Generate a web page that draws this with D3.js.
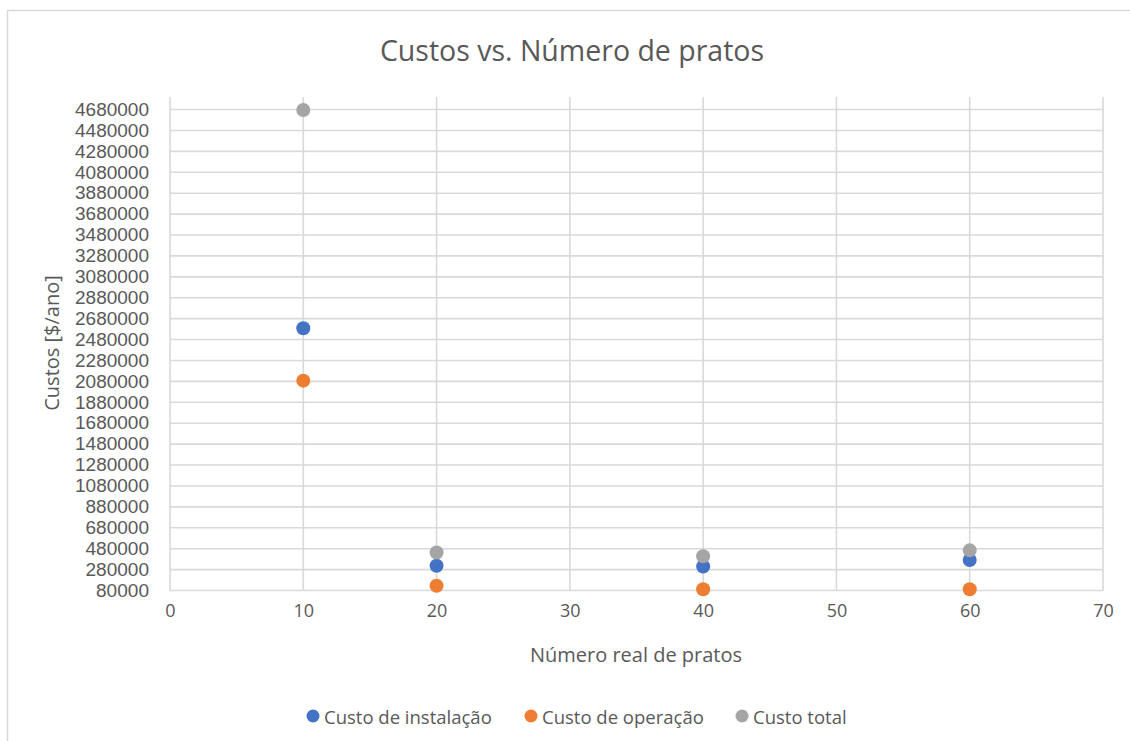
<!DOCTYPE html>
<html>
<head>
<meta charset="utf-8">
<script src="https://cdn.jsdelivr.net/npm/d3@7"></script>
<style>
  html, body { margin: 0; padding: 0; background: #ffffff; }
  svg { display: block; font-family: "Open Sans", "Liberation Sans", sans-serif; }
</style>
</head>
<body>
<svg id="chart" width="1130" height="741"></svg>
<script>
// Number of plates on the x axis
const pratos = [10, 20, 40, 60];
// Annual costs per series ($/ano)
const custoInstalacao = [2588000, 317000, 310000, 372000];
const custoOperacao   = [2087000, 126000, 92000, 92000];
const custoTotal      = [4675000, 443000, 408000, 464000];

const seriesNames  = ["Custo de instalação", "Custo de operação", "Custo total"];
const seriesColors = ["#4472C4", "#ED7D31", "#A5A5A5"];
const seriesValues = [custoInstalacao, custoOperacao, custoTotal];

// Axis settings
const xTicks = [0, 10, 20, 30, 40, 50, 60, 70];
const yMin = 80000, yMax = 4800000, yStep = 200000;
const yTicks = d3.range(yMin, 4680000 + 1, yStep);

const svg = d3.select("#chart");
const textColor = "#595959";
const gridColor = "#d9d9d9";

// Outer chart frame
svg.append("rect")
  .attr("x", 7.5).attr("y", 10.5)
  .attr("width", 1140).attr("height", 735)
  .attr("fill", "#ffffff")
  .attr("stroke", gridColor).attr("stroke-width", 1.5);

const plot = { left: 170, right: 1103, top: 97, bottom: 590.5 };

const x = d3.scaleLinear().domain([0, 70]).range([plot.left, plot.right]);
const y = d3.scaleLinear().domain([yMin, yMax]).range([plot.bottom, plot.top]);

// Horizontal gridlines
svg.append("g")
  .selectAll("line")
  .data(yTicks)
  .join("line")
  .attr("x1", plot.left).attr("x2", plot.right)
  .attr("y1", d => y(d)).attr("y2", d => y(d))
  .attr("stroke", gridColor).attr("stroke-width", 1.6);

// Vertical gridlines (including the axis line at 0)
svg.append("g")
  .selectAll("line")
  .data(xTicks)
  .join("line")
  .attr("x1", d => x(d)).attr("x2", d => x(d))
  .attr("y1", plot.top).attr("y2", plot.bottom)
  .attr("stroke", gridColor).attr("stroke-width", 1.6);

// Y axis labels
const yAxis = d3.axisLeft(y)
  .tickValues(yTicks)
  .tickFormat(d3.format("d"))
  .tickSize(0)
  .tickPadding(21);
const gy = svg.append("g")
  .attr("transform", `translate(${plot.left},0)`)
  .call(yAxis);
gy.select(".domain").remove();
gy.selectAll("text")
  .attr("fill", textColor)
  .style("font-size", "18px")
  .style("font-family", "'Liberation Sans', sans-serif")
  .attr("textLength", 74)
  .attr("lengthAdjust", "spacingAndGlyphs");
// shorter labels (6 digits) keep the same per-digit width
gy.selectAll("text")
  .filter(d => String(d).length === 6)
  .attr("textLength", 63.5);
gy.selectAll("text")
  .filter(d => String(d).length === 5)
  .attr("textLength", 53);

// X axis labels
const xAxis = d3.axisBottom(x)
  .tickValues(xTicks)
  .tickFormat(d3.format("d"))
  .tickSize(0)
  .tickPadding(14);
const gx = svg.append("g")
  .attr("transform", `translate(0,${plot.bottom})`)
  .call(xAxis);
gx.select(".domain").remove();
gx.selectAll("text")
  .attr("fill", textColor)
  .style("font-size", "18px")
  .style("font-family", "'Open Sans', 'Liberation Sans', sans-serif");

// Title
svg.append("text")
  .attr("x", 572).attr("y", 50)
  .attr("text-anchor", "middle")
  .attr("dominant-baseline", "central")
  .attr("fill", textColor)
  .style("font-size", "28.5px")
  .text("Custos vs. Número de pratos");

// Axis titles
svg.append("text")
  .attr("x", 636).attr("y", 654)
  .attr("text-anchor", "middle")
  .attr("dominant-baseline", "central")
  .attr("fill", textColor)
  .style("font-size", "20px")
  .text("Número real de pratos");

svg.append("text")
  .attr("transform", "translate(51,343) rotate(-90)")
  .attr("text-anchor", "middle")
  .attr("dominant-baseline", "central")
  .attr("fill", textColor)
  .style("font-size", "20px")
  .text("Custos [$/ano]");

// Markers
seriesValues.forEach((vals, i) => {
  svg.append("g")
    .selectAll("circle")
    .data(pratos.map((p, j) => ({ p, v: vals[j] })))
    .join("circle")
    .attr("cx", d => x(d.p))
    .attr("cy", d => y(d.v))
    .attr("r", 7)
    .attr("fill", seriesColors[i]);
});

// Legend
const legendItems = [
  { x: 313 }, { x: 531 }, { x: 742 }
];
const legend = svg.append("g");
seriesNames.forEach((name, i) => {
  const lx = legendItems[i].x;
  legend.append("circle")
    .attr("cx", lx).attr("cy", 716).attr("r", 6.5)
    .attr("fill", seriesColors[i]);
  legend.append("text")
    .attr("x", lx + 11).attr("y", 716)
    .attr("dominant-baseline", "central")
    .attr("fill", textColor)
    .style("font-size", "18.5px")
    .text(name);
});
</script>
</body>
</html>
